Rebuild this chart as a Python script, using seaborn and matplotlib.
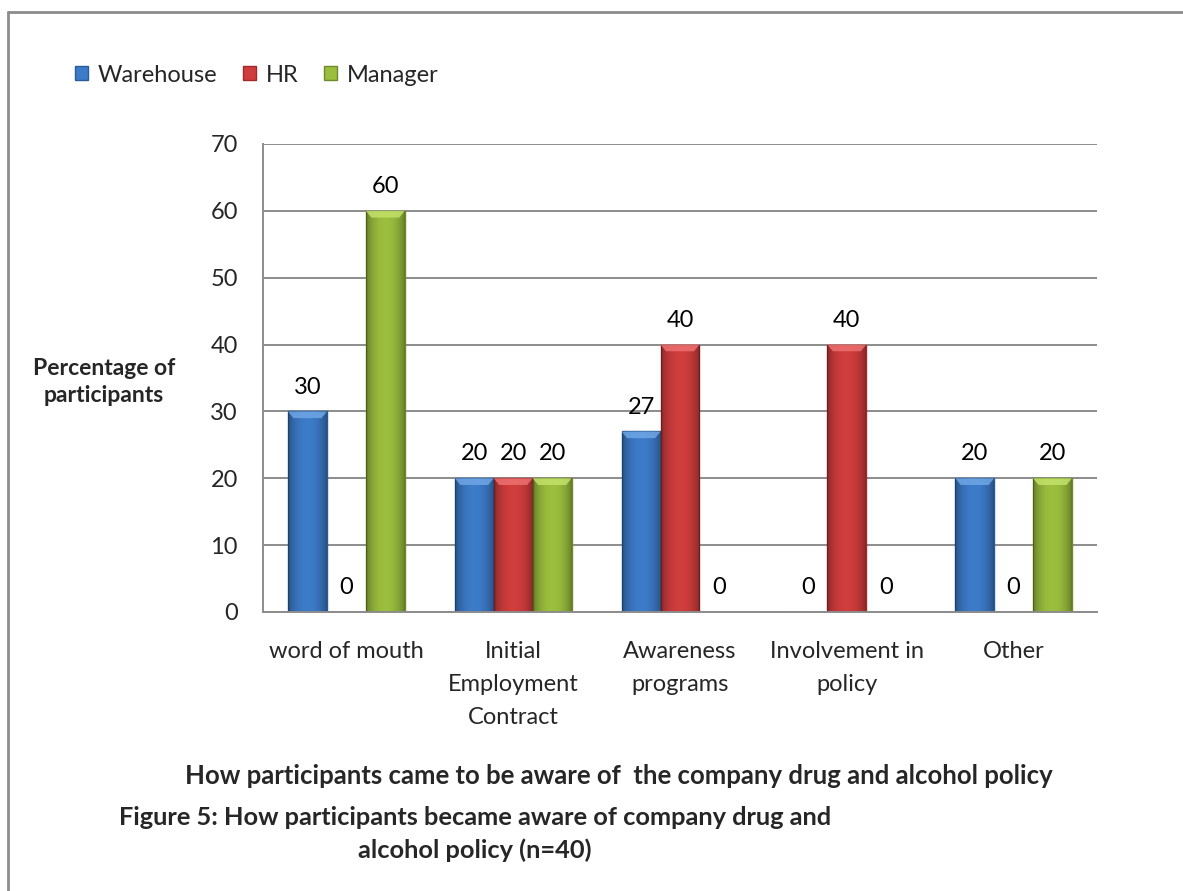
import matplotlib
matplotlib.use("Agg")
import matplotlib.pyplot as plt
import seaborn as sns
import pandas as pd
import numpy as np
from matplotlib.lines import Line2D
from matplotlib.patches import Polygon

categories = ["word of mouth", "Initial\nEmployment\nContract", "Awareness\nprograms",
              "Involvement in\npolicy", "Other"]
groups = ["Warehouse", "HR", "Manager"]
warehouse = [30, 20, 27, 0, 20]
hr = [0, 20, 40, 40, 0]
manager = [60, 20, 0, 0, 20]
yticks = [0, 10, 20, 30, 40, 50, 60, 70]
colors = ["#3C7BC8", "#D03D3D", "#9BBE3E"]
edges = ["#2A5C9A", "#9E2A2A", "#6F8A28"]
tops = ["#6FA6E6", "#EE7070", "#C3E26A"]

rows = []
for g, vals in zip(groups, [warehouse, hr, manager]):
    for c, v in zip(categories, vals):
        rows.append({"cat": c, "grp": g, "val": v})
df = pd.DataFrame(rows)

sns.set_theme(style="white")
plt.rcParams['font.family'] = ['Lato', 'DejaVu Sans']

fig = plt.figure(figsize=(11.83, 8.91), dpi=100)
ax = fig.add_axes([263/1183, 1-612/891, (1097-263)/1183, (612-144)/891])

sns.barplot(data=df, x="cat", y="val", hue="grp", order=categories, hue_order=groups,
            palette=colors, width=0.7, ax=ax, legend=False, saturation=1)

# shading gradient for a bevelled look
t = np.linspace(0, 1, 64)
alpha = 0.32 * np.abs(2 * t - 1) ** 2.2
shade = np.zeros((1, 64, 4))
shade[..., 3] = alpha
for i, cont in enumerate(ax.containers):
    for p in cont.patches:
        p.set_edgecolor(edges[i])
        p.set_linewidth(1.0)
        x, y = p.get_x(), p.get_y()
        w, h = p.get_width(), p.get_height()
        if h <= 0:
            continue
        im = ax.imshow(shade, extent=[x, x + w, y, y + h], aspect="auto",
                       zorder=p.get_zorder() + 0.1, interpolation="bilinear")
        im.set_clip_path(p)
        bh = min(1.0, h * 0.5)
        bw = w * 0.14
        ax.add_patch(Polygon([[x, y + h], [x + w, y + h], [x + w - bw, y + h - bh],
                              [x + bw, y + h - bh]], closed=True, facecolor=tops[i],
                             edgecolor="none", alpha=0.85, zorder=p.get_zorder() + 0.2))
    ax.bar_label(cont, labels=[f"{int(v)}" for v in cont.datavalues], padding=10,
                 fontsize=17, color="black")

ax.set_ylim(0, 70)
ax.set_yticks(yticks)
ax.set_yticklabels([str(t) for t in yticks], fontsize=17)
ax.set_xlim(-0.5, 4.5)
ax.tick_params(axis="x", length=0, pad=21, labelsize=17)
ax.tick_params(axis="y", length=0, pad=18)
for lbl in ax.get_xticklabels():
    lbl.set_linespacing(1.7)
ax.set_xlabel("")
ax.set_ylabel("")
ax.yaxis.grid(True, color="#8c8c8c", linewidth=1.4)
ax.set_axisbelow(True)
for s in ["top", "right"]:
    ax.spines[s].set_visible(False)
for s in ["left", "bottom"]:
    ax.spines[s].set_color("#8c8c8c")
    ax.spines[s].set_linewidth(1.4)

fig.text(104/1183, 1-382/891, "Percentage of\nparticipants", ha="center", va="center",
         fontsize=16.5, fontweight="bold", linespacing=1.3)

handles = [plt.Rectangle((0, 0), 1, 1, facecolor=c, edgecolor=e) for c, e in zip(colors, edges)]
fig.legend(handles, groups, loc="center left", bbox_to_anchor=(75/1183, 1-75/891), ncol=3,
           frameon=False, fontsize=17, handlelength=0.55, handleheight=0.55,
           handletextpad=0.4, columnspacing=1.1, borderpad=0, borderaxespad=0)

fig.text(619/1183, 1-776/891,
         "How participants came to be aware of  the company drug and alcohol policy",
         ha="center", va="center", fontsize=18.5, fontweight="bold")
fig.text(475/1183, 1-834/891,
         "Figure 5: How participants became aware of company drug and\nalcohol policy (n=40)",
         ha="center", va="center", fontsize=18.3, fontweight="bold", linespacing=1.45)

fig.add_artist(Line2D([8/1183, 1], [1-12/891, 1-12/891], color="#8c8c8c", linewidth=2,
                      transform=fig.transFigure))
fig.add_artist(Line2D([8/1183, 8/1183], [1-12/891, 0], color="#8c8c8c", linewidth=2,
                      transform=fig.transFigure))

fig.savefig("out.png", dpi=100)
